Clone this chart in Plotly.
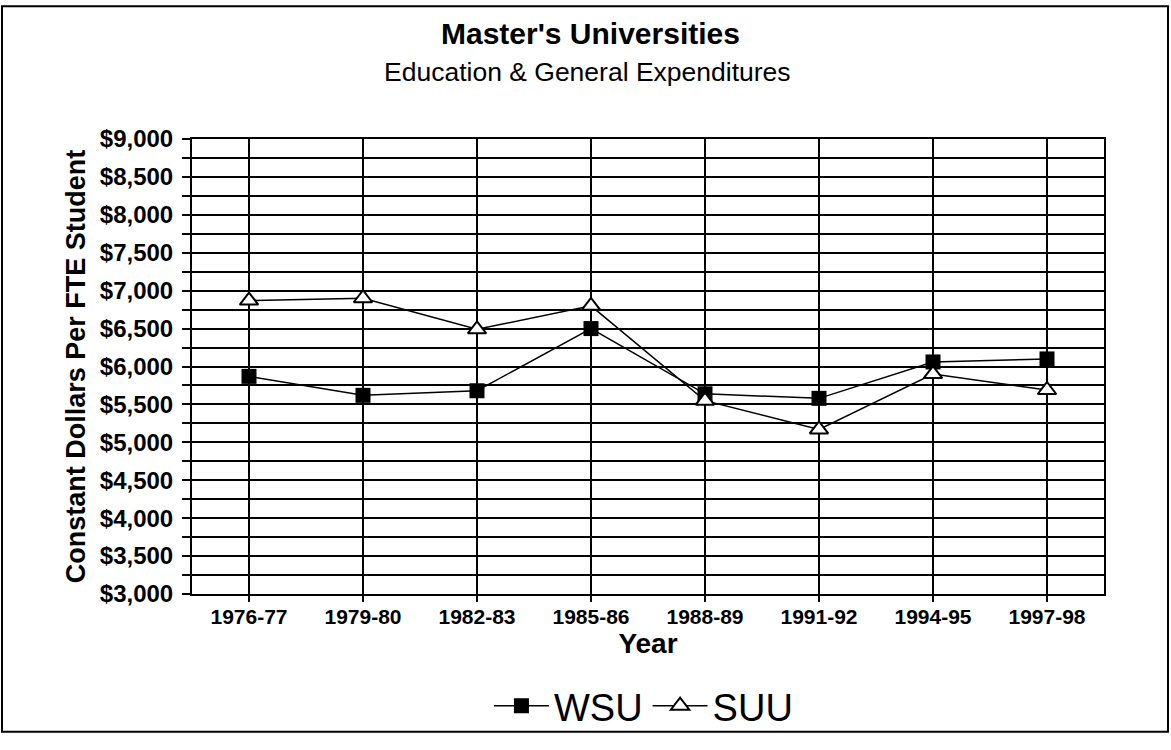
import plotly.graph_objects as go

# Data
years = ['1976-77', '1979-80', '1982-83', '1985-86', '1988-89', '1991-92', '1994-95', '1997-98']
wsu = [5870, 5620, 5680, 6500, 5640, 5580, 6060, 6100]
suu = [6870, 6900, 6490, 6800, 5550, 5170, 5900, 5690]
y_ticks = list(range(3000, 9001, 500))
y_labels = ['${:,}'.format(v) for v in y_ticks]

FONT = 'Liberation Sans, Arial, sans-serif'

fig = go.Figure()

fig.add_trace(go.Scatter(
    x=years, y=wsu, name='WSU', mode='lines+markers',
    line=dict(color='black', width=1.5),
    marker=dict(symbol='square', size=15, color='black'),
))
fig.add_trace(go.Scatter(
    x=years, y=suu, name='SUU', mode='lines+markers',
    line=dict(color='black', width=1.5),
    marker=dict(symbol='triangle-up', size=16, color='white',
                line=dict(color='black', width=2)),
))

# Plot frame / page frame geometry in pixels
L, R, T, B = 192, 1104, 139, 598
W, H = 1171, 750
pw, ph = R - L, B - T

def px_x(x):
    return (x - L) / pw

def px_y(y):
    return (B - y) / ph

fig.update_layout(
    width=W, height=H,
    margin=dict(l=L, r=W - R, t=T, b=H - B),
    paper_bgcolor='white', plot_bgcolor='white',
    font=dict(family=FONT, color='black'),
    showlegend=True,
    legend=dict(
        orientation='h', x=0.495, xanchor='center', y=px_y(711), yanchor='middle',
        font=dict(size=38), itemwidth=55, tracegroupgap=0,
        bgcolor='rgba(0,0,0,0)',
    ),
    annotations=[
        dict(text="<b>Master's Universities</b>", x=px_x(590), y=px_y(33),
             xref='paper', yref='paper', showarrow=False,
             font=dict(size=30), xanchor='center', yanchor='middle'),
        dict(text='Education & General Expenditures', x=px_x(587), y=px_y(71),
             xref='paper', yref='paper', showarrow=False,
             font=dict(size=26.5), xanchor='center', yanchor='middle'),
    ],
    shapes=[
        dict(type='rect', xref='paper', yref='paper',
             x0=px_x(2), x1=px_x(1168), y0=px_y(737), y1=px_y(5),
             line=dict(color='black', width=2), layer='below'),
    ],
)

fig.update_xaxes(
    type='category', range=[-0.5, 7.5],
    tickvals=years, ticktext=['<b>%s</b>' % y for y in years],
    showgrid=True, gridcolor='black', gridwidth=1.5,
    showline=True, linecolor='black', linewidth=2, mirror=True,
    ticks='outside', ticklen=6, tickcolor='black', tickwidth=1.5,
    tickfont=dict(size=21, family=FONT), ticklabelstandoff=-3,
    title=dict(text='<b>Year</b>', font=dict(size=28), standoff=0),
)
fig.update_yaxes(
    range=[3000, 9000], tickvals=y_ticks, ticktext=['<b>%s</b>' % t for t in y_labels],
    showgrid=True, gridcolor='black', gridwidth=1.5,
    minor=dict(dtick=250, showgrid=True, gridcolor='black', gridwidth=1.5,
               ticks='outside', ticklen=8, tickcolor='black'),
    showline=True, linecolor='black', linewidth=2, mirror=True,
    ticks='outside', ticklen=8, tickcolor='black', tickwidth=1.5,
    tickfont=dict(size=24, family=FONT), ticklabelstandoff=4,
    title=dict(text='<b>Constant Dollars Per FTE Student</b>', font=dict(size=27), standoff=6),
)

# drop the browser's default page margin so the figure sits at the window origin
fig.write_html('out.html', config={'displayModeBar': False},
               post_script="document.body.style.margin='0';document.body.style.overflow='hidden';")
